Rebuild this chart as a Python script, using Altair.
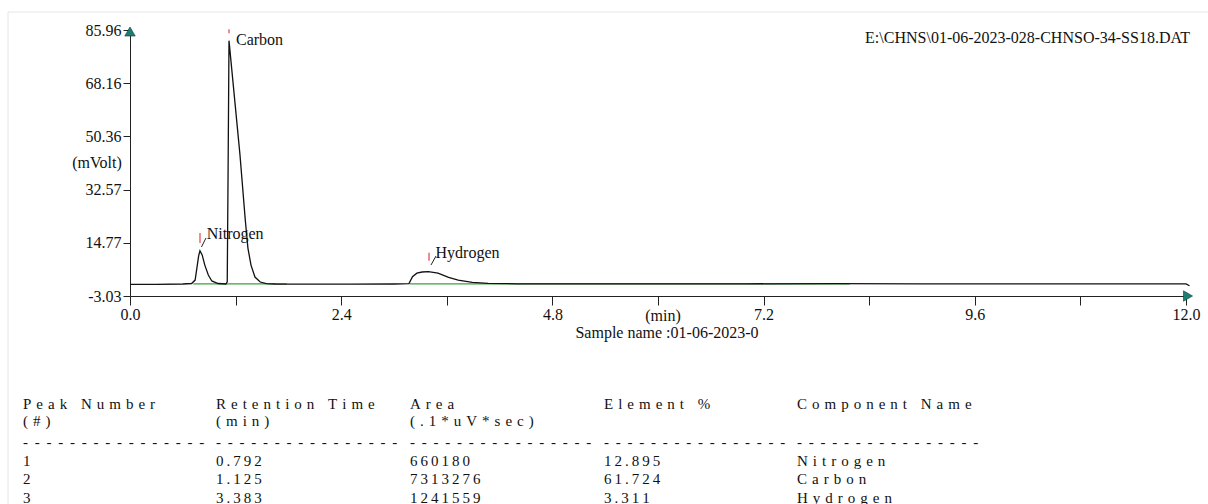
import altair as alt
import pandas as pd

# Detector trace: retention time (min) and signal (mV)
time_min = [0.00, 0.30, 0.60, 0.70, 0.74, 0.76, 0.78, 0.795, 0.82, 0.85, 0.89, 0.93,
            1.00, 1.09, 1.105, 1.115, 1.125, 1.19, 1.25, 1.31, 1.34, 1.375, 1.42,
            1.48, 1.55, 1.65, 2.00, 2.50, 3.00, 3.17, 3.21, 3.26, 3.32, 3.39, 3.50,
            3.62, 3.73, 3.89, 4.07, 4.40, 5.00, 6.00, 7.00, 8.00, 9.00, 10.00,
            11.00, 12.00, 12.04]
signal_mv = [0.85, 0.88, 0.98, 1.15, 2.3, 6.3, 10.4, 12.1, 10.7, 7.3, 4.0, 2.0,
             1.15, 0.98, 1.7, 40.0, 82.4, 62.5, 44.1, 22.4, 13.0, 7.3, 3.3,
             1.65, 1.08, 0.98, 0.95, 0.95, 0.98, 1.1, 3.4, 4.6, 5.0, 5.1, 4.6,
             3.2, 2.3, 1.55, 1.22, 1.05, 1.0, 1.0, 1.05, 1.1, 1.05, 1.0,
             1.0, 1.0, 0.4]

# Integrated peaks
peak_number = [1, 2, 3]
retention_min = [0.792, 1.125, 3.383]
area_uv_sec = [660180, 7313276, 1241559]
element_pct = [12.895, 61.724, 3.311]
component = ["Nitrogen", "Carbon", "Hydrogen"]
peak_height_mv = [12.1, 82.4, 5.1]

# Integration baseline segments
baseline_start = [0.72, 3.18]
baseline_end = [1.78, 8.18]
baseline_level = [1.0, 1.05]

# Axis ticks
y_ticks = [85.96, 68.16, 50.36, 32.57, 14.77, -3.03]
x_ticks = [0.0, 1.2, 2.4, 3.6, 4.8, 6.0, 7.2, 8.4, 9.6, 10.8, 12.0]
x_labels = ["0.0", "2.4", "4.8", "7.2", "9.6", "12.0"]

file_name = "E:\\CHNS\\01-06-2023-028-CHNSO-34-SS18.DAT"
sample_name = "Sample name :01-06-2023-0"

SERIF = "Liberation Serif"
INK = "#111111"
ARROW = "#1d7d72"

trace = pd.DataFrame({"t": time_min, "mv": signal_mv})
peaks = pd.DataFrame({"rt": retention_min, "h": peak_height_mv, "name": component})
base = pd.DataFrame({"t0": baseline_start, "t1": baseline_end, "lvl": baseline_level})
one = pd.DataFrame({"_": [0]})

xs = alt.Scale(domain=[0, 12], nice=False, zero=False)
ys = alt.Scale(domain=[-3.03, 85.96], nice=False, zero=False)

x_axis = alt.Axis(
    values=x_ticks, title=None, grid=False,
    labelExpr="indexof(" + str(x_labels) + ", format(datum.value, '.1f')) >= 0 ? format(datum.value, '.1f') : ''",
    domainColor="#222222", tickColor="#222222", tickSize=9, labelFont=SERIF, labelFontSize=16,
    labelColor=INK, labelPadding=1, labelFlush=False, labelOverlap=False,
)
y_axis = alt.Axis(
    values=y_ticks, title=None, grid=False,
    labelExpr="replace(format(datum.value, '.2f'), '\u2212', '-')",
    domainColor="#222222", tickColor="#222222", tickSize=7, labelFont=SERIF, labelFontSize=16,
    labelColor=INK, labelPadding=2, labelFlush=False, labelOverlap=False,
)

line = alt.Chart(trace).mark_line(color="#111111", strokeWidth=1.3, clip=False).encode(
    x=alt.X("t:Q", scale=xs, axis=x_axis),
    y=alt.Y("mv:Q", scale=ys, axis=y_axis),
    order="t:Q",
)

green = alt.Chart(base).mark_rule(color="#3f9f3f", strokeWidth=1.3).encode(
    x="t0:Q", x2="t1:Q", y="lvl:Q"
)

# axis arrow heads
arrow_y = alt.Chart(pd.DataFrame({"t": [0.0], "mv": [max(y_ticks)]})).mark_point(
    shape="triangle-up", filled=True, size=110, color=ARROW, stroke="#0f3f3a",
    strokeWidth=0.6, opacity=1, yOffset=1.5, clip=False
).encode(x="t:Q", y="mv:Q")
arrow_x = alt.Chart(pd.DataFrame({"t": [12.0], "mv": [min(y_ticks)]})).mark_point(
    shape="triangle-right", filled=True, size=110, color=ARROW, stroke="#0f3f3a",
    strokeWidth=0.6, opacity=1, xOffset=2, clip=False
).encode(x="t:Q", y="mv:Q")

# per-peak annotation offsets in pixels: red tick, leader line, label
annot = {
    "Nitrogen": dict(tick=(0.3, -17.8, -7.8), lead=(1.8, -3.8, 6.3, -12.8), text=(7, -11.8)),
    "Carbon": dict(tick=(0.0, -11.3, -7.3), lead=None, text=(7, 3.9)),
    "Hydrogen": dict(tick=(1.3, -19.0, -11.0), lead=(3.3, -6.7, 8.3, -15.7), text=(7.8, -13.2)),
}
annot_layers = []
for name, o in annot.items():
    p = alt.Chart(peaks).transform_filter(alt.datum.name == name)
    dx, y0, y1 = o["tick"]
    annot_layers.append(p.mark_rule(color="#e0453f", strokeWidth=1.2, xOffset=dx, x2Offset=dx,
                                    yOffset=y0, y2Offset=y1).encode(x="rt:Q", x2="rt:Q", y="h:Q", y2="h:Q"))
    if o["lead"]:
        a, b, c, d = o["lead"]
        annot_layers.append(p.mark_rule(color="#222222", strokeWidth=1.0, xOffset=a, yOffset=b,
                                        x2Offset=c, y2Offset=d).encode(x="rt:Q", x2="rt:Q", y="h:Q", y2="h:Q"))
    tx, ty = o["text"]
    annot_layers.append(p.mark_text(align="left", baseline="alphabetic", dx=tx, dy=ty, font=SERIF,
                                    fontSize=16, color=INK).encode(x="rt:Q", y="h:Q", text="name:N"))


def label(txt, x, y, size=16, align="left", baseline="middle", **kw):
    return alt.Chart(one).mark_text(text=txt, align=align, baseline=baseline, font=SERIF,
                                    fontSize=size, color=INK, **kw).encode(x=alt.value(x), y=alt.value(y))


NB = "\u00a0"
WIDE = "\u2004"   # three-per-em space between letters
THIN = "\u2009"   # thin space between digits


def spaced(s):
    gap = THIN if all(c in "0123456789." for c in s) else WIDE
    return gap.join(s.replace(" ", NB))


dashes = (NB + THIN).join(["-"] * 16)

headers = [
    ["Peak Number", "(#)"],
    ["Retention Time", "(min)"],
    ["Area", "(.1*uV*sec)"],
    ["Element %"],
    ["Component Name"],
]
bodies = [
    [str(v) for v in peak_number],
    [f"{v:.3f}" for v in retention_min],
    [str(v) for v in area_uv_sec],
    [f"{v:.3f}" for v in element_pct],
    component,
]
col_x = [-107, 86, 280, 474, 667]

table = []
for cx, head, body in zip(col_x, headers, bodies):
    table.append(label([spaced(h) for h in head], cx, 366.5, size=15, baseline="top", lineHeight=17))
    table.append(label([dashes] + [spaced(v) for v in body], cx, 405.2, size=15,
                       baseline="top", lineHeight=18.6))

# light page frame
frame = [
    alt.Chart(one).mark_rule(color="#e6e6e6", strokeWidth=1).encode(
        x=alt.value(-122), x2=alt.value(1078), y=alt.value(-18)),
    alt.Chart(one).mark_rule(color="#e6e6e6", strokeWidth=1).encode(
        x=alt.value(-122), y=alt.value(-18), y2=alt.value(474)),
]

texts = [
    label(file_name, 1060, 8, align="right"),
    label("(mVolt)", -33, 133, align="center"),
    label("(min)", 533, 286, align="center"),
    label(sample_name, 537, 303, align="center"),
]

chart = alt.layer(
    *frame, green, line, *annot_layers, arrow_y, arrow_x, *texts, *table
).properties(
    width=1056, height=266,
    autosize=alt.AutoSizeParams(type="none"),
    padding={"left": 130, "top": 30, "right": 22, "bottom": 208},
    background="white",
).configure_view(stroke=None)

chart.save("out.html", embed_options={"renderer": "svg", "actions": False})
